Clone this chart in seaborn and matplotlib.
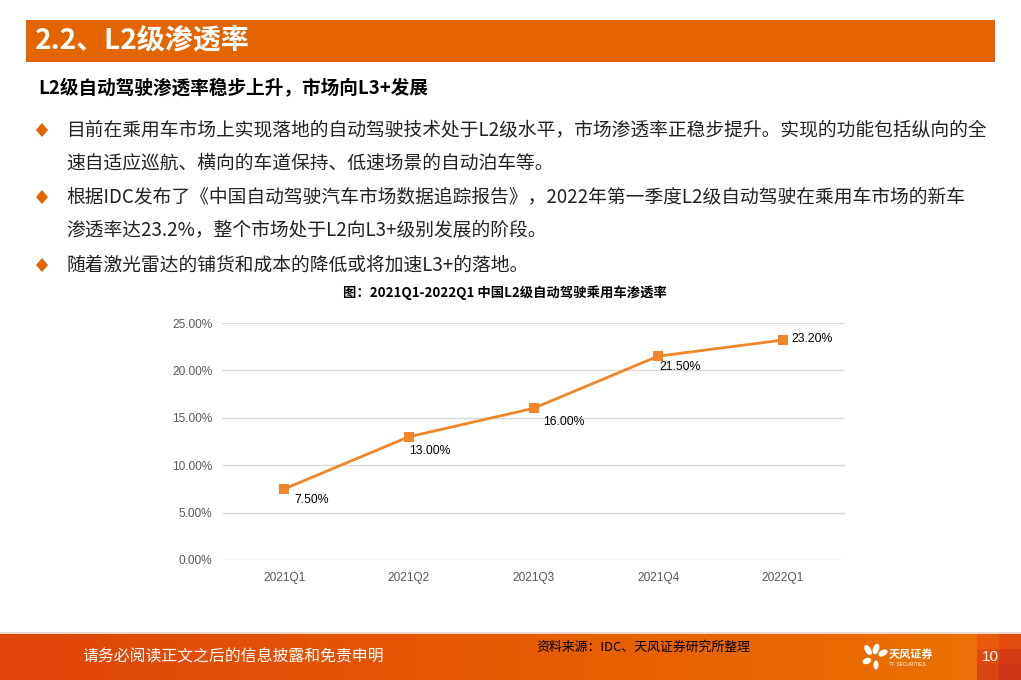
import matplotlib
matplotlib.use("Agg")
import matplotlib.pyplot as plt
import seaborn as sns
import numpy as np
import pandas as pd
from matplotlib.patches import Rectangle, Polygon, Ellipse

# ---------------- data ----------------
categories = ["2021Q1", "2021Q2", "2021Q3", "2021Q4", "2022Q1"]
penetration = [7.50, 13.00, 16.00, 21.50, 23.20]
y_ticks = [0, 5, 10, 15, 20, 25]
y_tick_labels = ["0.00%", "5.00%", "10.00%", "15.00%", "20.00%", "25.00%"]
point_labels = ["7.50%", "13.00%", "16.00%", "21.50%", "23.20%"]

title_text = "2.2、L2级渗透率"
subtitle_text = "L2级自动驾驶渗透率稳步上升，市场向L3+发展"
bullet_lines = [
    ("目前在乘用车市场上实现落地的自动驾驶技术处于L2级水平，市场渗透率正稳步提升。实现的功能包括纵向的全", True),
    ("速自适应巡航、横向的车道保持、低速场景的自动泊车等。", False),
    ("根据IDC发布了《中国自动驾驶汽车市场数据追踪报告》，2022年第一季度L2级自动驾驶在乘用车市场的新车", True),
    ("渗透率达23.2%，整个市场处于L2向L3+级别发展的阶段。", False),
    ("随着激光雷达的铺货和成本的降低或将加速L3+的落地。", True),
]
caption_text = "图：2021Q1-2022Q1 中国L2级自动驾驶乘用车渗透率"
footer_text = "请务必阅读正文之后的信息披露和免责申明"
source_text = "资料来源：IDC、天风证券研究所整理"
page_number = "10"

df = pd.DataFrame({"quarter": categories, "rate": penetration})

# ---------------- style ----------------
sns.set_theme(style="white")
plt.rcParams["font.family"] = ["Noto Sans CJK SC", "DejaVu Sans"]

W, H = 1021, 680
fig = plt.figure(figsize=(W / 100, H / 100), dpi=100)
fig.patch.set_facecolor("white")

ORANGE = "#E46400"
LINE = "#F0862A"

# background axes in pixel coordinates
bg = fig.add_axes([0, 0, 1, 1])
bg.set_xlim(0, W)
bg.set_ylim(H, 0)
bg.axis("off")

# title bar
bg.add_patch(Rectangle((26, 20), 969, 42, color=ORANGE, lw=0))
bg.text(35, 41, title_text, color="white", fontsize=20.2, fontweight="bold",
        va="center", ha="left")

# subtitle
bg.text(38, 88, subtitle_text, color="black", fontsize=13.4, fontweight="bold",
        va="center", ha="left")

# bullets
ys = [130, 163, 197, 230, 265]
for (txt, has_bullet), y in zip(bullet_lines, ys):
    if has_bullet:
        bg.add_patch(Polygon([[42, y - 7], [48, y], [42, y + 7], [36, y]],
                             closed=True, color=ORANGE, lw=0))
    bg.text(66, y, txt, color="#222222", fontsize=13.5, va="center", ha="left")

# caption
bg.text(505, 293, caption_text, color="black", fontsize=9.6, fontweight="bold",
        va="center", ha="center")

# footer gradient
grad = np.linspace(0, 1, 256)
c0 = np.array([224, 68, 10]) / 255
c1 = np.array([234, 112, 0]) / 255
img = (c0[None, :] * (1 - grad[:, None]) + c1[None, :] * grad[:, None])[None, :, :]
bg.imshow(img, extent=(0, 955, 680, 634), aspect="auto", zorder=1)
bg.add_patch(Rectangle((0, 632), W, 2, color="#F3D8CC", lw=0, zorder=2))
# right decorative squares
sq_colors = [["#EE7E0E", "#E85A0C", "#E24A0E"],
             ["#E8650A", "#E04A10", "#D63A12"],
             ["#E35A0A", "#DA4410", "#CC3414"]]
xs = [955, 977, 999]
yy = [634, 649, 664]
for i in range(3):
    for j in range(3):
        bg.add_patch(Rectangle((xs[j], yy[i]), 22, 16, color=sq_colors[i][j], lw=0, zorder=2))
bg.add_patch(Rectangle((955, 634), 22, 46, color="#EA7008", lw=0, zorder=2))

bg.text(82, 657, footer_text, color="white", fontsize=11.4, va="center", ha="left", zorder=3)
bg.text(536, 647, source_text, color="black", fontsize=9.3, va="center", ha="left", zorder=3)
bg.text(990, 657, page_number, color="white", fontsize=11, va="center", ha="center",
        family=["Liberation Sans"], zorder=3)

# logo
for (ex, ey, w, h, a) in [(868, 650, 6, 11, -30), (876, 649, 6, 11, 20), (883, 653, 6, 10, 60),
                          (867, 661, 6, 9, 70), (876, 665, 5, 9, 0)]:
    bg.add_patch(Ellipse((ex, ey), w, h, angle=a, color="white", lw=0, zorder=3))
bg.text(889, 654, "天风证券", color="white", fontsize=8, fontweight="bold",
        va="center", ha="left", zorder=3)
bg.text(889, 665, "TF SECURITIES", color="white", fontsize=3.5, va="center", ha="left",
        family=["Liberation Sans"], zorder=3)

# ---------------- chart ----------------
ax_left, ax_right = 222 / W, 845 / W
ax_bottom, ax_top = 1 - 560 / H, 1 - 323 / H
ax = fig.add_axes([ax_left, ax_bottom, ax_right - ax_left, ax_top - ax_bottom])
ax.set_facecolor("none")

sns.lineplot(data=df, x="quarter", y="rate", ax=ax, color=LINE, linewidth=2,
             marker="s", markersize=6.5, markeredgewidth=0, sort=False, zorder=3)

ax.set_xlim(-0.5, len(categories) - 0.5)
ax.set_ylim(0, 25)
ax.set_yticks(y_ticks)
ax.set_yticklabels(y_tick_labels)
ax.set_xticks(range(len(categories)))
ax.set_xticklabels(categories)
ax.set_xlabel("")
ax.set_ylabel("")
ax.tick_params(axis="y", length=0, labelsize=8.6, colors="#595959", pad=7)
ax.tick_params(axis="x", length=0, labelsize=8.6, colors="#595959", pad=9)
for lab in ax.get_xticklabels() + ax.get_yticklabels():
    lab.set_family(["Liberation Sans"])
ax.yaxis.grid(True, color="#D9D9D9", linewidth=1)
ax.xaxis.grid(False)
for s in ax.spines.values():
    s.set_visible(False)

offsets = [(7, -8), (0, -10), (7, -10), (1, -8), (6, 1)]
for i, (v, lab) in enumerate(zip(penetration, point_labels)):
    dx, dy = offsets[i]
    ax.annotate(lab, (i, v), xytext=(dx, dy), textcoords="offset points",
                ha="left", va="center", fontsize=8.8, color="black",
                family=["Liberation Sans"])

fig.savefig("out.png", dpi=100)
